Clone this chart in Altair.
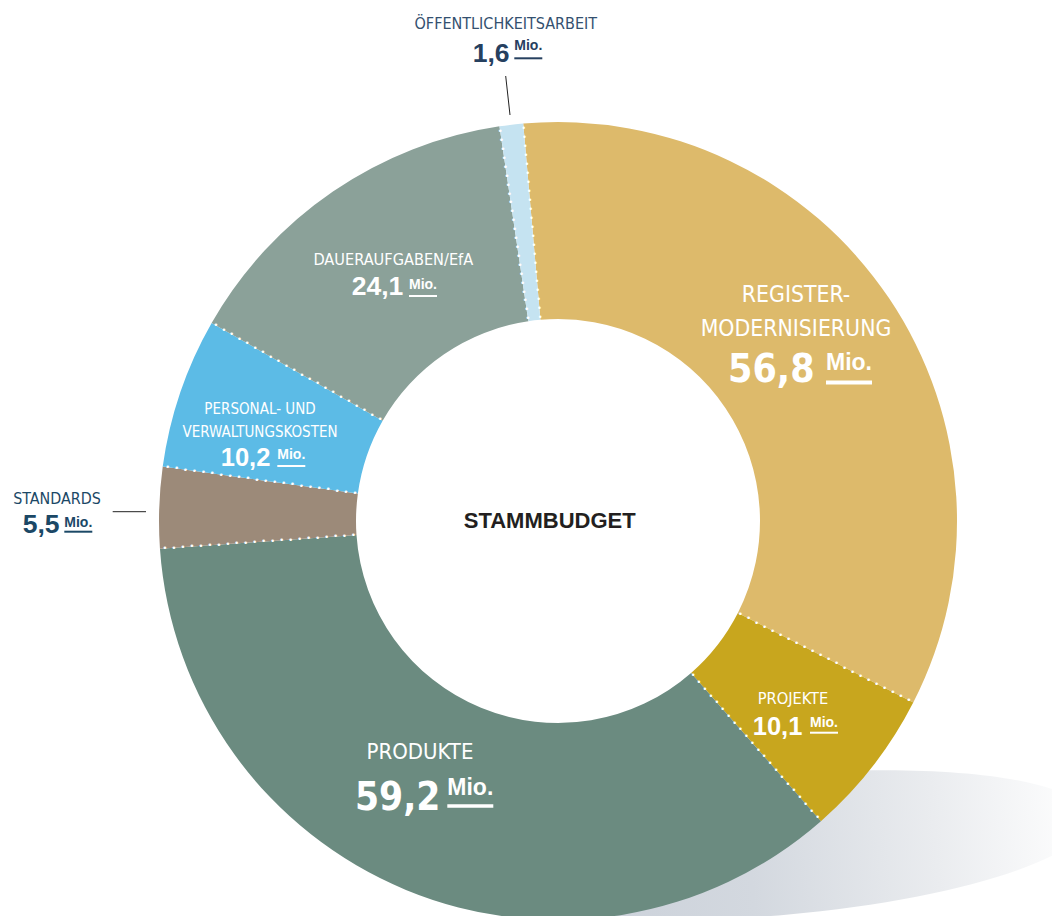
import math
import altair as alt
import pandas as pd
import numpy as np

# ---------------- data ----------------
segments = ["Registermodernisierung", "Projekte", "Produkte", "Standards",
            "Personal- und Verwaltungskosten", "Daueraufgaben/EfA", "Öffentlichkeitsarbeit"]
name_lines = [["REGISTER-", "MODERNISIERUNG"], ["PROJEKTE"], ["PRODUKTE"], ["STANDARDS"],
              ["PERSONAL- UND", "VERWALTUNGSKOSTEN"], ["DAUERAUFGABEN/EfA"], ["ÖFFENTLICHKEITSARBEIT"]]
values = [56.8, 10.1, 59.2, 5.5, 10.2, 24.1, 1.6]
unit = "Mio."
center_title = "STAMMBUDGET"
colors = ["#DDBA6B", "#C8A61E", "#6B8B80", "#9C8A79", "#5CBBE6", "#8BA199", "#C5E3F1"]

# ---------------- layout ----------------
M = 8                       # page margin
CX, CY = 558 - M, 521 - M   # donut centre in plot coords
R_IN, R_OUT = 202, 399
START = math.radians(-5.0)
total = sum(values)

COND = "DejaVu Sans Condensed, Liberation Sans Narrow, sans-serif"
WIDE = "Liberation Sans, Arial, sans-serif"
DARK1 = "#1b4866"
DARK2 = "#34506f"

# label placement (page coordinates)
layout = [
    dict(nx=796, ny=[301.7, 336], ns=22.8, nc="white", vx=728, vy=381.7, vs=39, vf=COND, vc="white",
         mx=826, my=370, ms=23, uy=382.5, uw=4),
    dict(nx=793, ny=[704], ns=16.3, nc="white", vx=752.7, vy=735, vs=25.5, vf=WIDE, vc="white",
         mx=810, my=727.3, ms=14, uy=732.7, uw=2),
    dict(nx=420, ny=[759.3], ns=22.0, nc="white", vx=355, vy=810, vs=38.5, vf=COND, vc="white",
         mx=447.3, my=795, ms=23, uy=806, uw=3.5),
    dict(nx=57, ny=[504], ns=15.9, nc=DARK1, vx=22.7, vy=533.3, vs=26.5, vf=WIDE, vc=DARK1,
         mx=64.3, my=526.7, ms=14, uy=531.7, uw=2),
    dict(nx=260, ny=[414, 437.3], ns=15.0, nc="white", vx=220.7, vy=466, vs=25.5, vf=WIDE, vc="white",
         mx=277.3, my=459.3, ms=14, uy=466, uw=2),
    dict(nx=393.3, ny=[265], ns=16.2, nc="white", vx=351.7, vy=295, vs=26.5, vf=WIDE, vc="white",
         mx=409, my=289.3, ms=14, uy=296, uw=2),
    dict(nx=505.8, ny=[29.3], ns=16.0, nc=DARK2, vx=472.7, vy=61.7, vs=26.5, vf=WIDE, vc="#26405f",
         mx=514.3, my=50, ms=14, uy=58.3, uw=2),
]

theta_scale = alt.Scale(domain=[0, total], range=[START, START + 2 * math.pi])

# ---------------- shadow ----------------
shadow = alt.Chart(pd.DataFrame({"a": [0]})).mark_point(
    shape="M -1 0 A 1 0.2258 0 1 0 1 0 A 1 0.2258 0 1 0 -1 0 Z",
    size=620 ** 2, filled=True, opacity=1, strokeWidth=0, angle=355,
    fill={"gradient": "linear", "x1": 0, "x2": 1, "y1": 0, "y2": 0,
          "stops": [{"offset": 0, "color": "#c6cdd7"},
                    {"offset": 0.45, "color": "#d3d8df"},
                    {"offset": 0.75, "color": "#eaecef"},
                    {"offset": 1, "color": "#ffffff"}]},
).encode(x=alt.value(780 - M), y=alt.value(845 - M))

# ---------------- donut ----------------
df = pd.DataFrame({"segment": segments, "value": values, "idx": list(range(len(values)))})
donut = alt.Chart(df).mark_arc(innerRadius=R_IN, outerRadius=R_OUT).encode(
    theta=alt.Theta("value:Q", stack=True, scale=theta_scale),
    color=alt.Color("segment:N", scale=alt.Scale(domain=segments, range=colors), legend=None),
    order=alt.Order("idx:Q"),
    x=alt.value(CX), y=alt.value(CY),
)

# dotted white separators along slice boundaries
bounds = np.concatenate([[0.0], np.cumsum(values)[:-1]])
radii = np.arange(R_IN + 3, R_OUT, 9.0)
dots_df = pd.DataFrame([(b, r) for b in bounds for r in radii], columns=["b", "r"])
dots = alt.Chart(dots_df).mark_text(text="•", fontSize=9.5, color="white", baseline="middle",
                                    align="center", font=WIDE).encode(
    theta=alt.Theta("b:Q", scale=theta_scale),
    radius=alt.Radius("r:Q", scale=alt.Scale(type="linear", domain=[0, R_OUT], range=[0, R_OUT])),
    x=alt.value(CX), y=alt.value(CY),
)

# ---------------- text helpers ----------------
def txt(s, x, y, size, color, font, weight="normal", align="left"):
    return alt.Chart(pd.DataFrame({"t": [s]})).mark_text(
        font=font, fontSize=size, fontWeight=weight, color=color, align=align, baseline="alphabetic"
    ).encode(text="t:N", x=alt.value(x - M), y=alt.value(y - M))


def hline(x1, x2, y, color, width):
    return alt.Chart(pd.DataFrame({"a": [0]})).mark_rule(color=color, strokeWidth=width).encode(
        x=alt.value(x1 - M), x2=alt.value(x2 - M), y=alt.value(y - M))


def seg(x1, y1, x2, y2, color, width):
    return alt.Chart(pd.DataFrame({"a": [0]})).mark_rule(color=color, strokeWidth=width).encode(
        x=alt.value(x1 - M), x2=alt.value(x2 - M), y=alt.value(y1 - M), y2=alt.value(y2 - M))


layers = [shadow, donut, dots]
for i, L in enumerate(layout):
    for line, by in zip(name_lines[i], L["ny"]):
        layers.append(txt(line, L["nx"], by, L["ns"], L["nc"], COND, "normal", "center"))
    vstr = f"{values[i]:.1f}".replace(".", ",")
    layers.append(txt(vstr, L["vx"], L["vy"], L["vs"], L["vc"], L["vf"], "bold"))
    layers.append(txt(unit, L["mx"], L["my"], L["ms"], L["vc"], WIDE, "bold"))
    layers.append(hline(L["mx"], L["mx"] + 2.0 * L["ms"], L["uy"], L["vc"], L["uw"]))

layers.append(txt(center_title, 549.7, 528.3, 22, "#231f20", WIDE, "bold", "center"))
layers.append(seg(505.7, 76, 510, 115, "#222222", 1))
layers.append(seg(112.7, 511.7, 146, 511.7, "#222222", 1))

chart = alt.layer(*layers).properties(
    width=1044, height=908, padding=0, autosize=alt.AutoSizeParams(type="none")
).configure_view(stroke=None)

chart.save("out.html", embed_options={"renderer": "svg", "actions": False})
